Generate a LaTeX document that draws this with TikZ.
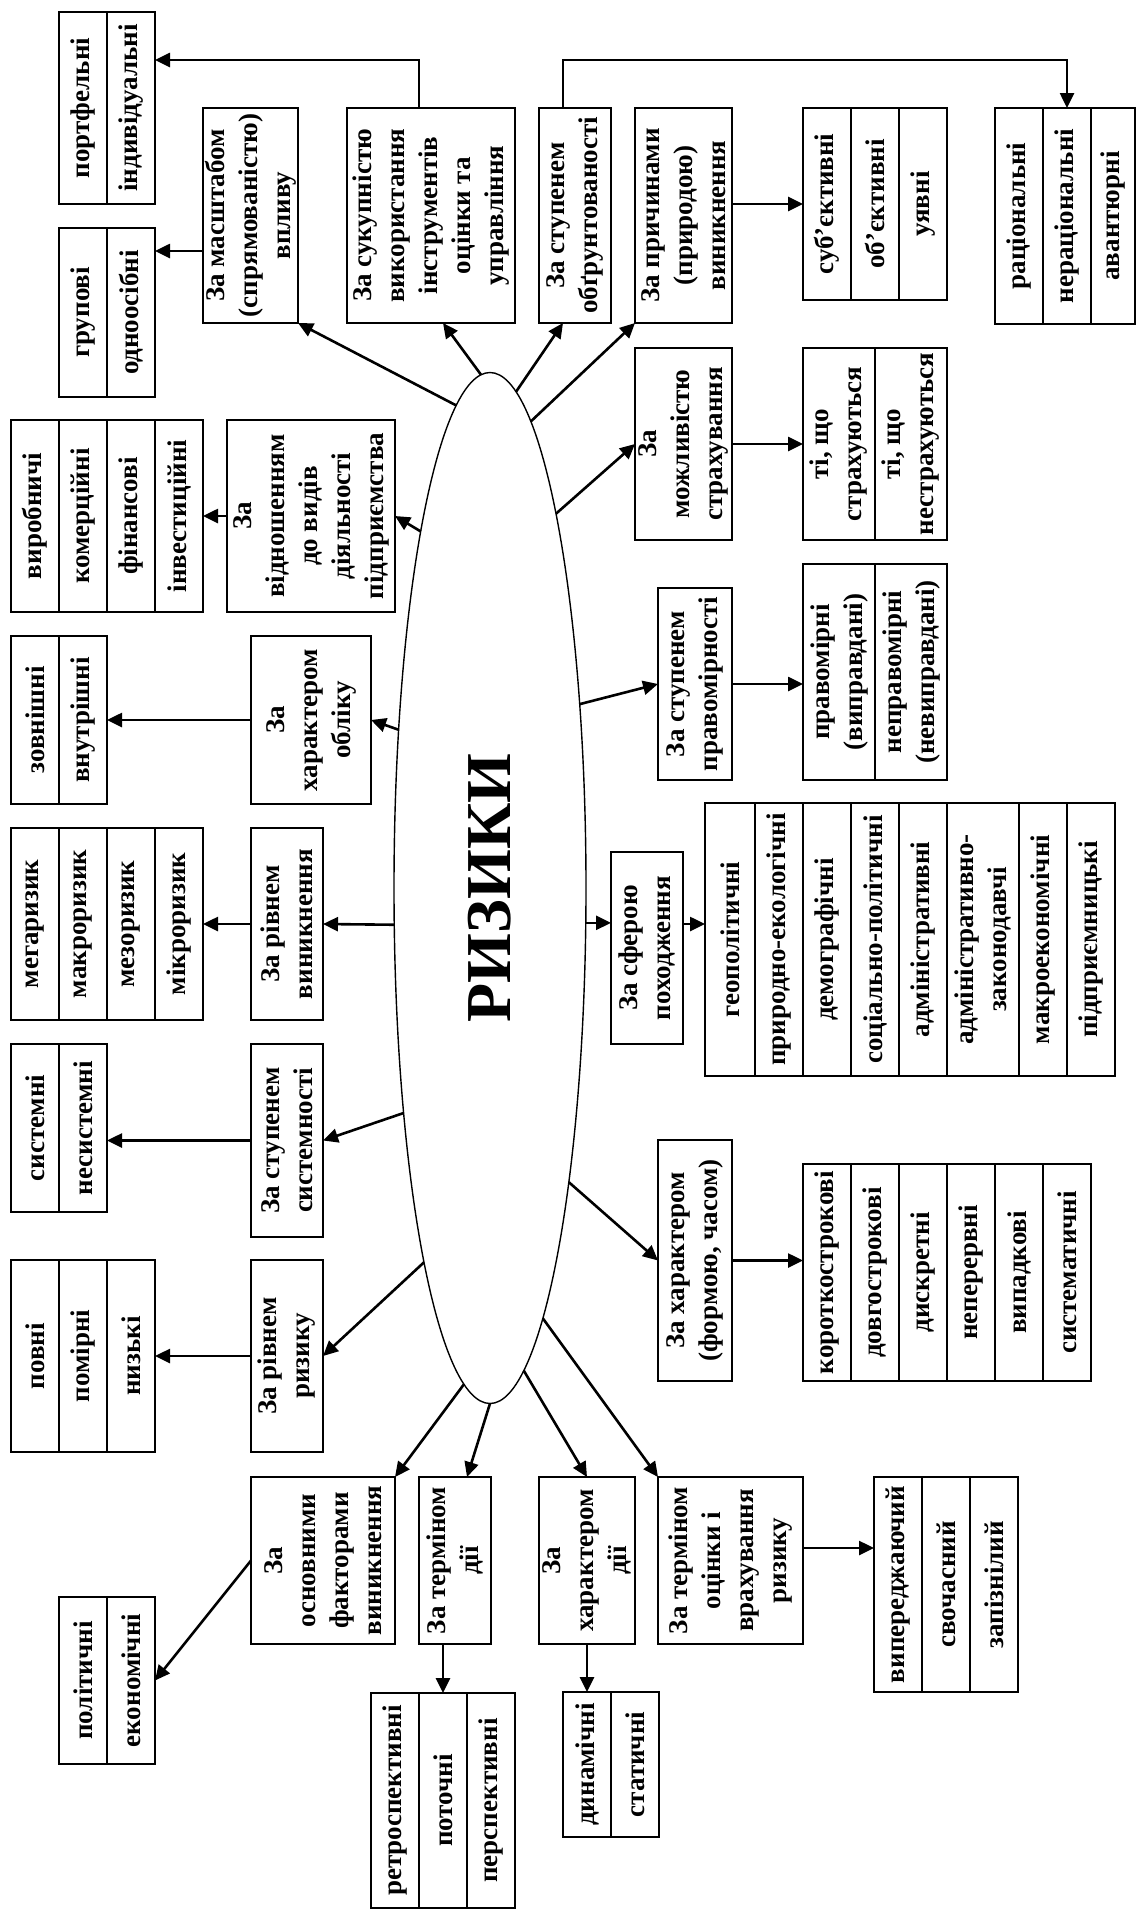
\documentclass[tikz,border=0pt]{standalone}
\usepackage{fontspec}
\setmainfont{Liberation Serif}
\usetikzlibrary{arrows.meta,shapes.geometric}
\tikzset{
  core/.style={draw, ellipse, rotate=90, line width=1.4pt, inner sep=0pt, outer sep=0pt,
    minimum width=1031pt, minimum height=192pt, font=\fontsize{64}{70}\selectfont\bfseries},
  crit/.style={draw, rotate=90, line width=2pt, align=center, inner sep=0pt, outer sep=0pt,
    font=\fontsize{27}{33}\selectfont\bfseries},
  cell/.style={crit, minimum height=48pt},
  arr/.style={line width=2.6pt, -{Triangle[length=15pt,width=14pt]}},
}
\begin{document}
\begin{tikzpicture}[x=1pt,y=-1pt]
  \useasboundingbox (0,0) rectangle (1137,1914);
  \node[core] (risk) at (490,888) {РИЗИКИ};

  \node[crit, minimum width=215pt, minimum height=95pt] (masht) at (250.5,215.5) {За масштабом\\(спрямованістю)\\впливу};
  \node[crit, minimum width=215pt, minimum height=168pt] (sukup) at (431,215.5) {За сукупністю\\використання\\інструментів\\оцінки та\\управління};
  \node[crit, minimum width=215pt, minimum height=72pt] (obgr) at (575,215.5) {За ступенем\\обґрунтованості};
  \node[crit, minimum width=215pt, minimum height=97pt] (prych) at (683.5,215.5) {За причинами\\(природою)\\виникнення};
  \node[crit, minimum width=192pt, minimum height=97pt] (mozhl) at (683.5,444) {За\\можливістю\\страхування};
  \node[crit, minimum width=192pt, minimum height=74pt] (pravom) at (695,684) {За ступенем\\правомірності};
  \node[crit, minimum width=192pt, minimum height=72pt] (spher) at (647,948) {За сферою\\походження};
  \node[crit, minimum width=241pt, minimum height=74pt] (kharform) at (695,1260.5) {За характером\\(формою, часом)};
  \node[crit, minimum width=167pt, minimum height=145pt] (termotsin) at (730.5,1560.5) {За терміном\\оцінки і\\врахування\\ризику};
  \node[crit, minimum width=167pt, minimum height=96pt] (kharakt) at (587,1560.5) {За\\характером\\дії};
  \node[crit, minimum width=167pt, minimum height=72pt] (termdii) at (455,1560.5) {За терміном\\дії};
  \node[crit, minimum width=167pt, minimum height=144pt] (osnovn) at (323,1560.5) {За\\основними\\факторами\\виникнення};
  \node[crit, minimum width=192pt, minimum height=72pt] (rivrys) at (287,1356) {За рівнем\\ризику};
  \node[crit, minimum width=193pt, minimum height=72pt] (syst) at (287,1140.5) {За ступенем\\системності};
  \node[crit, minimum width=192pt, minimum height=72pt] (vynyk) at (287,924) {За рівнем\\виникнення};
  \node[crit, minimum width=168pt, minimum height=120pt] (oblik) at (311,720) {За\\характером\\обліку};
  \node[crit, minimum width=192pt, minimum height=168pt] (vidnosh) at (311,516) {За\\відношенням\\до видів\\діяльності\\підприємства};

  \node[cell, minimum width=192pt] (portf1) at (83,108) {портфельні};
  \node[cell, minimum width=192pt] (portf2) at (131,108) {індивідуальні};
  \node[cell, minimum width=169pt] (grup1) at (83,312.5) {групові};
  \node[cell, minimum width=169pt] (grup2) at (131,312.5) {одноосібні};
  \node[cell, minimum width=192pt] (vyrob1) at (35,516) {виробничі};
  \node[cell, minimum width=192pt] (vyrob2) at (83,516) {комерційні};
  \node[cell, minimum width=192pt] (vyrob3) at (131,516) {фінансові};
  \node[cell, minimum width=192pt] (vyrob4) at (179,516) {інвестиційні};
  \node[cell, minimum width=168pt] (zovn1) at (35,720) {зовнішні};
  \node[cell, minimum width=168pt] (zovn2) at (83,720) {внутрішні};
  \node[cell, minimum width=192pt] (mega1) at (35,924) {мегаризик};
  \node[cell, minimum width=192pt] (mega2) at (83,924) {макроризик};
  \node[cell, minimum width=192pt] (mega3) at (131,924) {мезоризик};
  \node[cell, minimum width=192pt] (mega4) at (179,924) {мікроризик};
  \node[cell, minimum width=168pt] (sys1) at (35,1128) {системні};
  \node[cell, minimum width=168pt] (sys2) at (83,1128) {несистемні};
  \node[cell, minimum width=192pt] (povn1) at (35,1356) {повні};
  \node[cell, minimum width=192pt] (povn2) at (83,1356) {помірні};
  \node[cell, minimum width=192pt] (povn3) at (131,1356) {низькі};
  \node[cell, minimum width=167pt] (polit1) at (83,1680.5) {політичні};
  \node[cell, minimum width=167pt] (polit2) at (131,1680.5) {економічні};
  \node[cell, minimum width=215pt] (retro1) at (395,1800.5) {ретроспективні};
  \node[cell, minimum width=215pt] (retro2) at (443,1800.5) {поточні};
  \node[cell, minimum width=215pt] (retro3) at (491,1800.5) {перспективні};
  \node[cell, minimum width=145pt] (dyn1) at (587,1764.5) {динамічні};
  \node[cell, minimum width=145pt] (dyn2) at (635,1764.5) {статичні};
  \node[cell, minimum width=215pt] (vyper1) at (898,1584.5) {випереджаючий};
  \node[cell, minimum width=215pt] (vyper2) at (946,1584.5) {свочасний};
  \node[cell, minimum width=215pt] (vyper3) at (994,1584.5) {запізнілий};
  \node[cell, minimum width=217pt] (korot1) at (827,1272.5) {короткострокові};
  \node[cell, minimum width=217pt] (korot2) at (875,1272.5) {довгострокові};
  \node[cell, minimum width=217pt] (korot3) at (923,1272.5) {дискретні};
  \node[cell, minimum width=217pt] (korot4) at (971,1272.5) {неперервні};
  \node[cell, minimum width=217pt] (korot5) at (1019,1272.5) {випадкові};
  \node[cell, minimum width=217pt] (korot6) at (1067,1272.5) {систематичні};
  \node[cell, minimum width=273pt, minimum height=50pt] (geo1) at (730,939.5) {геополітичні};
  \node[cell, minimum width=273pt] (geo2) at (779,939.5) {природно-екологічні};
  \node[cell, minimum width=273pt] (geo3) at (827,939.5) {демографічні};
  \node[cell, minimum width=273pt] (geo4) at (875,939.5) {соціально-політичні};
  \node[cell, minimum width=273pt] (geo5) at (923,939.5) {адміністративні};
  \node[cell, minimum width=273pt, minimum height=72pt] (geo6) at (983,939.5) {адміністративно-\\законодавчі};
  \node[cell, minimum width=273pt] (geo7) at (1043,939.5) {макроекономічні};
  \node[cell, minimum width=273pt] (geo8) at (1091,939.5) {підприємницькі};
  \node[cell, minimum width=216pt, minimum height=72pt] (prav1) at (839,672) {правомірні\\(виправдані)};
  \node[cell, minimum width=216pt, minimum height=72pt] (prav2) at (911,672) {неправомірні\\(невиправдані)};
  \node[cell, minimum width=192pt, minimum height=72pt] (strakh1) at (839,444) {ті, що\\страхуються};
  \node[cell, minimum width=192pt, minimum height=72pt] (strakh2) at (911,444) {ті, що\\нестрахуються};
  \node[cell, minimum width=192pt] (subj1) at (827,204) {суб’єктивні};
  \node[cell, minimum width=192pt] (subj2) at (875,204) {об’єктивні};
  \node[cell, minimum width=192pt] (subj3) at (923,204) {уявні};
  \node[cell, minimum width=216pt] (rats1) at (1019,216) {раціональні};
  \node[cell, minimum width=216pt] (rats2) at (1067,216) {нераціональні};
  \node[cell, minimum width=216pt, minimum height=44pt] (rats3) at (1113,216) {авантюрні};

  \draw[arr] (risk.4.9) -- (masht.south west);
  \draw[arr] (risk.1.9) -- (sukup.west -| 443,0);
  \draw[arr] (risk.-3.2) -- (obgr.west -| 563,0);
  \draw[arr] (risk.-5.3) -- (prych.north west);
  \draw[arr] (risk.-10.3) -- (mozhl.north);
  \draw[arr] (risk.-26.8) -- (pravom.north);
  \draw[arr] (risk.-110.6) -- (spher.north |- risk.-110.6);
  \draw[arr] (risk.-165.9) -- (kharform.north);
  \draw[arr] (risk.-173.7) -- (termotsin.north east);
  \draw[arr] (risk.-176.8) -- (kharakt.east);
  \draw[arr] (risk.180) -- (termdii.east -| 467,0);
  \draw[arr] (risk.177.1) -- (osnovn.south east);
  \draw[arr] (risk.170.9) -- (rivrys.south);
  \draw[arr] (risk.159.6) -- (syst.south);
  \draw[arr] (risk.111.1) -- (vynyk.south);
  \draw[arr] (risk.30.6) -- (oblik.south);
  \draw[arr] (risk.11.5) -- (vidnosh.south);

  \draw[arr] (sukup.east -| 419,0) |- (portf2.south |- 0,60);
  \draw[arr] (obgr.east -| 563,0) -- ++(0,-48) -| (rats2.east);
  \draw[arr] (masht.north |- 0,251) -- (grup2.south |- 0,251);
  \draw[arr] (vidnosh.north) -- (vyrob4.south);
  \draw[arr] (oblik.north) -- (zovn2.south);
  \draw[arr] (vynyk.north) -- (mega4.south);
  \draw[arr] (syst.north) -- (syst.north -| sys2.south);
  \draw[arr] (rivrys.north) -- (povn3.south);
  \draw[arr] (osnovn.north) -- (polit2.south);
  \draw[arr] (retro2.east |- termdii.west) -- (retro2.east);
  \draw[arr] (kharakt.west) -- (dyn1.east);
  \draw[arr] (termotsin.south |- 0,1548) -- (vyper1.north |- 0,1548);
  \draw[arr] (kharform.south) -- (kharform.south -| korot1.north);
  \draw[arr] (spher.south |- 0,924) -- (geo1.north |- 0,924);
  \draw[arr] (pravom.south) -- (pravom.south -| prav1.north);
  \draw[arr] (mozhl.south) -- (strakh1.north);
  \draw[arr] (prych.south |- subj1.north) -- (subj1.north);
\end{tikzpicture}
\end{document}
